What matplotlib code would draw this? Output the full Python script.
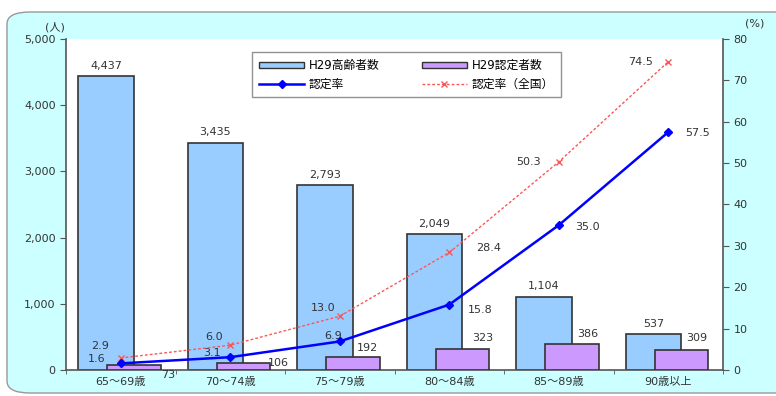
import numpy as np
import matplotlib
matplotlib.use("Agg")
import matplotlib.pyplot as plt
from matplotlib.patches import FancyBboxPatch, Patch
from matplotlib.lines import Line2D

plt.rcParams['font.family'] = ['DejaVu Sans', 'Noto Sans CJK JP']

# data
categories = ['65～69歳', '70～74歳', '75～79歳', '80～84歳', '85～89歳', '90歳以上']
elderly = [4437, 3435, 2793, 2049, 1104, 537]
certified = [73, 106, 192, 323, 386, 309]
rate = [1.6, 3.1, 6.9, 15.8, 35.0, 57.5]
rate_national = [2.9, 6.0, 13.0, 28.4, 50.3, 74.5]

# label offsets in points (dx, dy)
cert_off = [(5, -7), (6, 0), (-9, 7), (-5, 8), (-8, 7.5), (-8, 8)]
rate_off = [(-17, 3), (-13, 3), (-5, 4), (22, -4), (21, -1), (21, -1)]
nat_off = [(-15, 9), (-12, 6), (-12, 6), (28, 3), (-22, 0), (-20, 0)]

fig = plt.figure(figsize=(7.76, 3.96), dpi=100)
fig.patch.set_facecolor('white')
bg = FancyBboxPatch((7 / 776, 3 / 396), 800 / 776, 381 / 396,
                    boxstyle="round,pad=0,rounding_size=0.03",
                    transform=fig.transFigure, facecolor='#CCFFFF',
                    edgecolor='#999999', linewidth=1.0, zorder=-10)
fig.patches.append(bg)

ax = fig.add_axes([66 / 776, 26 / 396, 657 / 776, 331 / 396])
ax.set_facecolor('white')
x = np.arange(len(categories))
fs = 8

ax.bar(x - 0.135, elderly, width=0.51, color='#99CCFF', edgecolor='#333333',
       linewidth=1.2, zorder=2)
ax.bar(x + 0.12, certified, width=0.49, color='#CC99FF', edgecolor='#333333',
       linewidth=1.2, zorder=3)

ax.set_xlim(-0.5, 5.5)
ax.set_ylim(0, 5000)
ax.set_yticks(range(0, 5001, 1000))
ax.set_yticklabels(['{:,}'.format(v) for v in range(0, 5001, 1000)])
ax.set_xticks(x)
ax.set_xticklabels(categories)
ax.set_xticks(np.arange(-0.5, 6, 1), minor=True)
ax.tick_params(axis='x', which='major', length=0, labelsize=fs, colors='#333333', pad=5)
ax.tick_params(axis='x', which='minor', length=3, color='#555555')
ax.tick_params(axis='y', labelsize=fs, colors='#333333', length=4, color='#555555')
for s in ['top', 'right']:
    ax.spines[s].set_visible(False)
for s in ['left', 'bottom']:
    ax.spines[s].set_color('#555555')
    ax.spines[s].set_linewidth(1.2)

for i, v in enumerate(elderly):
    ax.annotate('{:,}'.format(v), (x[i] - 0.135, v), xytext=(0, 4),
                textcoords='offset points', ha='center', va='bottom',
                fontsize=fs, color='#333333')
for i, v in enumerate(certified):
    ax.annotate('{:,}'.format(v), (x[i] + 0.12 + 0.245, v), xytext=cert_off[i],
                textcoords='offset points', ha='center', va='center',
                fontsize=fs, color='#333333')

ax2 = ax.twinx()
ax2.set_ylim(0, 80)
ax2.set_yticks(range(0, 81, 10))
ax2.tick_params(axis='y', labelsize=fs, colors='#333333', length=4, color='#555555')
for s in ['top', 'left', 'bottom']:
    ax2.spines[s].set_visible(False)
ax2.spines['right'].set_color('#555555')
ax2.spines['right'].set_linewidth(1.2)

ax2.plot(x, rate, color='#0000FF', linewidth=1.8, marker='D', markersize=4, zorder=5)
ax2.plot(x, rate_national, color='#FF5555', linewidth=1.0, linestyle=(0, (2, 1.5)),
         marker='x', markersize=5, zorder=4)

for i, v in enumerate(rate):
    ax2.annotate('{:.1f}'.format(v), (x[i], v), xytext=rate_off[i],
                 textcoords='offset points', ha='center', va='center',
                 fontsize=fs, color='#333333')
for i, v in enumerate(rate_national):
    ax2.annotate('{:.1f}'.format(v), (x[i], v), xytext=nat_off[i],
                 textcoords='offset points', ha='center', va='center',
                 fontsize=fs, color='#333333')

fig.text(45 / 776, 1 - 27 / 396, '(人)', fontsize=fs, color='#333333', va='center')
fig.text(755 / 776, 1 - 24 / 396, '(%)', fontsize=fs, color='#333333', va='center', ha='center')

handles = [Patch(facecolor='#99CCFF', edgecolor='#333333'),
           Line2D([], [], color='#0000FF', linewidth=1.8, marker='D', markersize=4),
           Patch(facecolor='#CC99FF', edgecolor='#333333'),
           Line2D([], [], color='#FF5555', linewidth=1.0, linestyle=(0, (2, 1.5)),
                  marker='x', markersize=5)]
labels = ['H29高齢者数', '認定率', 'H29認定者数', '認定率（全国）']
leg = ax2.legend(handles, labels, ncol=2, loc='upper left',
                 bbox_to_anchor=((252 - 66) / 657, 1 - (52 - 39) / 331),
                 borderaxespad=0, fontsize=8.5, frameon=True, fancybox=False,
                 edgecolor='#777777', handlelength=3.8, handleheight=0.4,
                 handletextpad=0.4, columnspacing=3.6, borderpad=0.6,
                 labelspacing=0.45)
leg.get_frame().set_linewidth(1.0)

fig.savefig('out.png', dpi=100)
